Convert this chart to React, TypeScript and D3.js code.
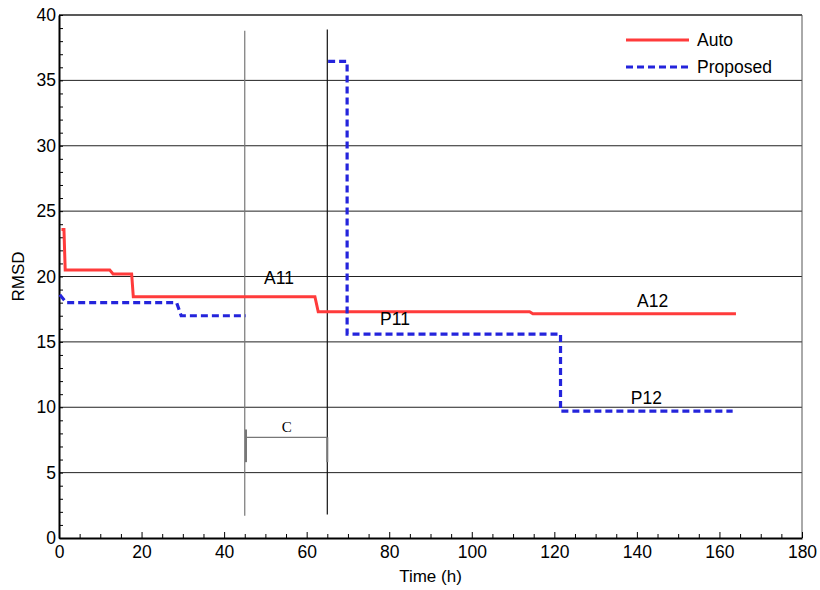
import React, { useEffect, useRef } from "react";
import * as d3 from "d3";

// values
const autoTime = [0.6, 1.2, 1.5, 12.3, 13.1, 17.6, 18.0, 62.0, 62.8, 114.0, 114.8, 164];
const autoRmsd = [23.6, 23.6, 20.5, 20.5, 20.2, 20.2, 18.45, 18.45, 17.3, 17.3, 17.15, 17.15];

// null splits the proposed curve into its two pieces
const propTime = [0.2, 1.8, 28.5, 29.6, 45.2, null, 65.2, 69.8, 69.8, 121.5, 121.5, 163.2];
const propRmsd = [18.6, 18.0, 18.0, 17.0, 17.0, null, 36.45, 36.45, 15.6, 15.6, 9.7, 9.7];

const xTicks = [0, 20, 40, 60, 80, 100, 120, 140, 160, 180];
const yTicks = [0, 5, 10, 15, 20, 25, 30, 35, 40];

const markerTimes = [45, 65];
const markerColors = ["#777", "#111"];
const bracketFrom = 45.3;
const bracketTo = 65;
const bracketLevel = 7.7;

const labels = [
  { text: "A11", t: 53.3, v: 19.45 },
  { text: "P11", t: 81.4, v: 16.3 },
  { text: "A12", t: 143.8, v: 17.65 },
  { text: "P12", t: 142.3, v: 10.25 },
];

const series = ["Auto", "Proposed"];

export default function App() {
  const ref = useRef<SVGSVGElement>(null);

  useEffect(() => {
    draw();
  }, []);

  let draw = () => {
    let svg = d3.select(ref.current);
    svg.selectAll("*").remove();

    let left = 59;
    let right = 802;
    let top = 15;
    let bottom = 538;
    let font = "'Liberation Sans', Arial, sans-serif";

    let x = d3.scaleLinear().domain([0, 180]).range([left, right]);
    let y = d3.scaleLinear().domain([0, 40]).range([bottom, top]);

    // horizontal grid
    svg
      .append("g")
      .selectAll("line")
      .data(yTicks.slice(1, -1))
      .enter()
      .append("line")
      .attr("x1", left)
      .attr("x2", right)
      .attr("y1", (d) => y(d))
      .attr("y2", (d) => y(d))
      .attr("stroke", "#222")
      .attr("stroke-width", 1);

    // frame
    svg
      .append("line")
      .attr("x1", left)
      .attr("x2", right)
      .attr("y1", top)
      .attr("y2", top)
      .attr("stroke", "#222")
      .attr("stroke-width", 1.5);
    svg
      .append("line")
      .attr("x1", right)
      .attr("x2", right)
      .attr("y1", top)
      .attr("y2", bottom)
      .attr("stroke", "#555")
      .attr("stroke-width", 1);

    // bottom axis, ticks inward
    let xAxis = svg
      .append("g")
      .attr("transform", `translate(0, ${bottom})`)
      .call(
        d3
          .axisBottom(x)
          .tickValues(d3.range(0, 181, 5))
          .tickSize(-5)
          .tickSizeOuter(0)
          .tickFormat((d) => (xTicks.includes(+d) ? String(d) : ""))
      );
    xAxis.select(".domain").attr("stroke", "#000").attr("stroke-width", 2);
    xAxis
      .selectAll(".tick line")
      .attr("stroke", "#000")
      .attr("y2", (d: any) => (d % 20 === 0 ? -6 : -4));
    xAxis
      .selectAll("text")
      .attr("y", 8)
      .attr("dy", "0.71em")
      .style("font-family", font)
      .style("font-size", "17.5px")
      .attr("fill", "#000");

    // left axis, ticks inward
    let yAxis = svg
      .append("g")
      .attr("transform", `translate(${left}, 0)`)
      .call(
        d3
          .axisLeft(y)
          .tickValues(d3.range(0, 41, 1))
          .tickSize(-4)
          .tickSizeOuter(0)
          .tickFormat((d) => (yTicks.includes(+d) ? String(d) : ""))
      );
    yAxis.select(".domain").attr("stroke", "#000").attr("stroke-width", 2);
    yAxis.selectAll(".tick line").attr("stroke", "#000");
    yAxis
      .selectAll("text")
      .attr("x", -3)
      .style("font-family", font)
      .style("font-size", "17.5px")
      .attr("fill", "#000");

    // axis titles
    svg
      .append("text")
      .attr("x", (left + right) / 2)
      .attr("y", 582)
      .attr("text-anchor", "middle")
      .style("font-family", font)
      .style("font-size", "17px")
      .text("Time (h)");
    svg
      .append("text")
      .attr("transform", `translate(24, ${(top + bottom) / 2}) rotate(-90)`)
      .attr("text-anchor", "middle")
      .style("font-family", font)
      .style("font-size", "17px")
      .text("RMSD");

    // vertical markers
    svg
      .selectAll("marker-lines")
      .data(markerTimes)
      .enter()
      .append("line")
      .attr("x1", (d) => x(d))
      .attr("x2", (d) => x(d))
      .attr("y1", (d, i) => y(i === 0 ? 38.8 : 38.9))
      .attr("y2", (d, i) => y(i === 0 ? 1.7 : 1.8))
      .attr("stroke", (d, i) => markerColors[i])
      .attr("stroke-width", 1.2);

    // C bracket
    let br = svg.append("g").attr("stroke", "#777").attr("stroke-width", 1.3);
    br.append("line")
      .attr("x1", x(bracketFrom))
      .attr("x2", x(bracketTo))
      .attr("y1", y(bracketLevel))
      .attr("y2", y(bracketLevel));
    br.append("line")
      .attr("x1", x(bracketFrom))
      .attr("x2", x(bracketFrom))
      .attr("y1", y(8.3))
      .attr("y2", y(5.8))
      .attr("stroke-width", 2);
    br.append("line")
      .attr("x1", x(bracketTo))
      .attr("x2", x(bracketTo))
      .attr("y1", y(bracketLevel))
      .attr("y2", y(5.8))
      .attr("stroke-width", 2);
    svg
      .append("text")
      .attr("x", x((bracketFrom + bracketTo) / 2))
      .attr("y", y(bracketLevel) - 5)
      .attr("text-anchor", "middle")
      .style("font-family", "'Liberation Serif', 'DejaVu Serif', serif")
      .style("font-size", "15px")
      .text("C");

    // curves
    let autoLine = d3
      .line<number>()
      .x((d) => x(d))
      .y((d, i) => y(autoRmsd[i]));
    svg
      .append("path")
      .attr("d", autoLine(autoTime))
      .attr("fill", "none")
      .attr("stroke", "#ff3b3b")
      .attr("stroke-width", 3);

    let propLine = d3
      .line<any>()
      .defined((d) => d !== null)
      .x((d) => x(d))
      .y((d, i) => y(propRmsd[i] as number));
    svg
      .append("path")
      .attr("d", propLine(propTime))
      .attr("fill", "none")
      .attr("stroke", "#2424dc")
      .attr("stroke-width", 3.2)
      .attr("stroke-dasharray", "7,4");

    // point labels
    svg
      .selectAll("labels")
      .data(labels)
      .enter()
      .append("text")
      .attr("x", (d) => x(d.t))
      .attr("y", (d) => y(d.v))
      .attr("text-anchor", "middle")
      .style("font-family", font)
      .style("font-size", "17.5px")
      .text((d) => d.text);

    // legend
    let legend = svg
      .selectAll("legend")
      .data(series)
      .enter()
      .append("g")
      .attr("transform", (d, i) => `translate(626, ${40 + i * 27})`);
    legend
      .append("line")
      .attr("x1", 0)
      .attr("x2", 63)
      .attr("stroke", (d, i) => (i === 0 ? "#ff3b3b" : "#2424dc"))
      .attr("stroke-width", 3.2)
      .attr("stroke-dasharray", (d, i) => (i === 0 ? null : "7,4"));
    legend
      .append("text")
      .attr("x", 71)
      .attr("y", 6)
      .style("font-family", font)
      .style("font-size", "17.5px")
      .text((d) => d);
  };

  return (
    <svg
      ref={ref}
      width={820}
      height={590}
      style={{ position: "absolute", left: 0, top: 0, background: "#fff" }}
    ></svg>
  );
}
